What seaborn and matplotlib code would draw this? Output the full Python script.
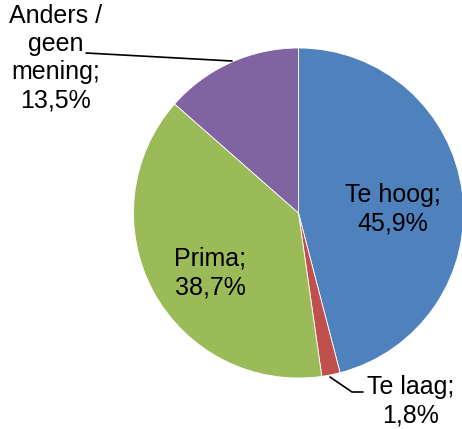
import matplotlib
matplotlib.use("Agg")
import matplotlib.pyplot as plt
import seaborn as sns

# data
categories = ["Te hoog", "Te laag", "Prima", "Anders /\ngeen\nmening"]
values = [45.9, 1.8, 38.7, 13.5]
colors = ["#4F81BD", "#C0504D", "#9BBB59", "#8064A2"]

sns.set_theme(style="white")
plt.rcParams['font.family'] = ['Liberation Sans', 'DejaVu Sans']

W, H = 462, 429
fig = plt.figure(figsize=(W / 100, H / 100), dpi=100)
ax = fig.add_axes([0, 0, 1, 1])

cx, cy, r = 298.5, H - 213, 165

wedges, _ = ax.pie(values, colors=colors, startangle=90, counterclock=False,
                   center=(cx, cy), radius=r, frame=True,
                   wedgeprops=dict(edgecolor="white", linewidth=0.6))
ax.set_xlim(0, W)
ax.set_ylim(0, H)
ax.set_aspect("equal")
ax.axis("off")

def lab(i):
    return f"{categories[i]};\n{values[i]:.1f}%".replace(".", ",")

fs = 18
kw = dict(ha="center", va="center", fontsize=fs, color="black", linespacing=1.22)
ax.text(393, H - 209, lab(0), **kw)
ax.text(210, H - 273, lab(2), **kw)
ax.text(56, H - 58, lab(3), **kw)
ax.text(411, H - 401, lab(1), **kw)

# leader lines
ax.plot([86, 232], [H - 53, H - 61], color="black", lw=1.2)
ax.plot([330, 352, 363], [H - 377, H - 392, H - 392], color="black", lw=1.2)

fig.savefig("out.png", dpi=100)
